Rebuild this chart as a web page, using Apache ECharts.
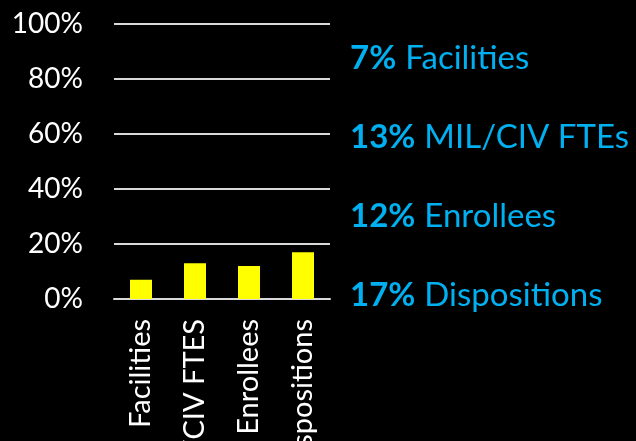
<!DOCTYPE html>
<html lang="en">
<head>
    <meta charset="UTF-8">
    <title>Chart</title>
    <script src="https://cdn.jsdelivr.net/npm/echarts@6/dist/echarts.min.js"></script>
    <style>
        html, body { margin: 0; padding: 0; background: #000; }
    </style>
</head>
<body>
<div id="main" style="width:636px;height:441px;"></div>

<script type="text/javascript">
    var categories = ['Facilities', 'MIL/CIV FTES', 'Enrollees', 'Dispositions'];
    var values = [7, 13, 12, 17];
    var noteNames = ['Facilities', 'MIL/CIV FTEs', 'Enrollees', 'Dispositions'];
    var yTicks = [0, 20, 40, 60, 80, 100];

    var font = 'Lato, "Open Sans", sans-serif';

    // right hand notes, one per category
    var notes = [];
    var noteY = [58, 137, 216, 295];
    for (var i = 0; i < values.length; i++) {
        notes.push({
            type: 'text',
            left: 350,
            top: noteY[i] - 16,
            style: {
                text: '{b|' + values[i] + '%}{n|' + noteNames[i] + '}',
                rich: {
                    b: { fontFamily: font, fontSize: 33, fontWeight: 'bold', fill: '#00B0F0', color: '#00B0F0', padding: [0, 9, 0, 0] },
                    n: { fontFamily: font, fontSize: 33, fill: '#00B0F0', color: '#00B0F0' }
                }
            }
        });
    }

    var option = {
        backgroundColor: '#000',
        animation: false,
        grid: {
            left: 114,
            right: 306,
            top: 24,
            bottom: 142,
            containLabel: false,
            outerBoundsMode: 'none'
        },
        xAxis: {
            type: 'category',
            data: categories,
            axisTick: { show: false },
            axisLine: { show: true, lineStyle: { color: '#D9D9D9', width: 2 } },
            axisLabel: {
                interval: 0,
                rotate: 90,
                margin: 20,
                color: '#fff',
                fontSize: 29,
                fontFamily: font
            }
        },
        yAxis: {
            type: 'value',
            min: yTicks[0],
            max: yTicks[yTicks.length - 1],
            interval: 20,
            axisLine: { show: false },
            axisTick: { show: false },
            splitLine: { lineStyle: { color: '#D9D9D9', width: 2 } },
            axisLabel: {
                margin: 31,
                color: '#fff',
                fontSize: 28,
                fontFamily: font,
                formatter: '{value}%'
            }
        },
        graphic: notes,
        series: [{
            type: 'bar',
            data: values,
            barWidth: 22,
            itemStyle: { color: '#FFFF00' }
        }]
    };

    var myChart = echarts.init(document.getElementById('main'));
    myChart.setOption(option);
</script>
</body>
</html>
